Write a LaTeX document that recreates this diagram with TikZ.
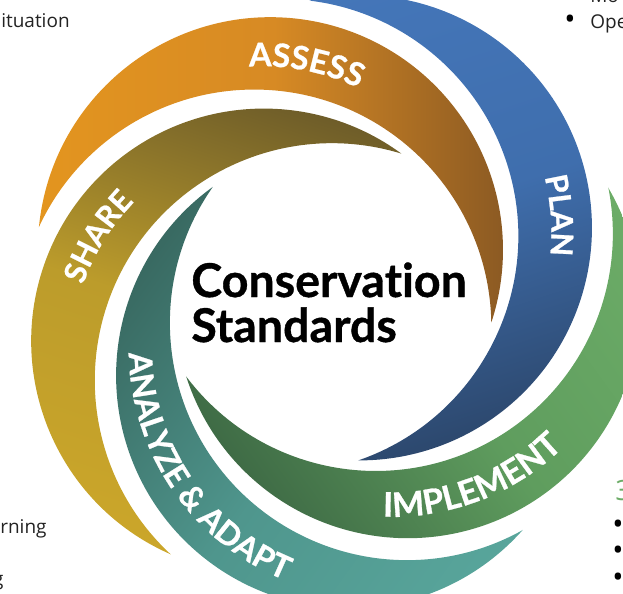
\documentclass[tikz,border=0pt]{standalone}
\usepackage{fontspec}
\setmainfont{Lato}[Ligatures=NoCommon]
\newfontfamily\heavyfont{Lato}[Ligatures=NoCommon, FakeBold=0.8]
\newfontfamily\opensans{Open Sans}
\usetikzlibrary{calc,decorations.text}

% band colours: head, middle, tail
\definecolor{assessL}{HTML}{E3951F}
\definecolor{assessM}{HTML}{D78A24}
\definecolor{assessD}{HTML}{8A5923}
\definecolor{planL}{HTML}{4476B9}
\definecolor{planM}{HTML}{3F6EAD}
\definecolor{planD}{HTML}{2C476C}
\definecolor{implL}{HTML}{6CAC67}
\definecolor{implM}{HTML}{5F9D5E}
\definecolor{implD}{HTML}{3E6A45}
\definecolor{adaptL}{HTML}{58A59B}
\definecolor{adaptM}{HTML}{4F968D}
\definecolor{adaptD}{HTML}{386860}
\definecolor{shareL}{HTML}{CBA62A}
\definecolor{shareM}{HTML}{BC9C2B}
\definecolor{shareD}{HTML}{6C5B29}
\definecolor{sidetext}{HTML}{222222}

\begin{document}
\begin{tikzpicture}[x=0.02cm,y=0.02cm,line join=round,line cap=round,
    side/.style={font=\opensans\fontsize{10.8}{13}\selectfont, text=sidetext, inner sep=0pt},
    dot/.style={font=\opensans\fontsize{17}{17}\selectfont, text=black, inner sep=0pt},
    bandtext/.style 2 args={decorate, decoration={text along path, text align=center,
      text={|\heavyfont\fontsize{#1}{22}\selectfont\bfseries\color{white}|#2}}}]
	\useasboundingbox (-330,-293) rectangle (293,300);
	
	% five crescents, turned 72 degrees clockwise each time
	\foreach \rot/\cl/\cm/\cd in {0/assessL/assessM/assessD, -72/planL/planM/planD,
	    -144/implL/implM/implD, -216/adaptL/adaptM/adaptD, -288/shareL/shareM/shareD}{
		\begin{scope}[transform canvas={rotate=\rot}]
			\shade[left color=\cl, right color=\cd, middle color=\cm]
			  (-291.1,72.6) arc[start angle=174.48, end angle=-18.26, radius=232.6]
			  arc[start angle=0.99, end angle=155.22, radius=237.2] -- cycle;
		\end{scope}
	}
	
	% labels along the middle of each band
	\begin{scope}[transform canvas={rotate=0}]
		\path[bandtext={18.5}{ASSESS}] ($(-67.6,11.7)+(123.9:222)$) arc[start angle=123.9, end angle=33.9, radius=222];
	\end{scope}
	\begin{scope}[transform canvas={rotate=-72}]
		\path[bandtext={17.3}{PLAN}] ($(-67.6,11.7)+(121:231)$) arc[start angle=121, end angle=31, radius=231];
	\end{scope}
	\begin{scope}[transform canvas={rotate=-144}]
		\path[bandtext={19.3}{IMPLEMENT}] ($(-67.6,11.7)+(15:247)$) arc[start angle=15, end angle=135, radius=247];
	\end{scope}
	\begin{scope}[transform canvas={rotate=-216}]
		\path[bandtext={18.3}{ANALYZE {\&} ADAPT}] ($(-67.6,11.7)+(0.5:249)$) arc[start angle=0.5, end angle=140.5, radius=249];
	\end{scope}
	\begin{scope}[transform canvas={rotate=-288}]
		\path[bandtext={17.3}{SHARE}] ($(-67.6,11.7)+(121.2:228)$) arc[start angle=121.2, end angle=31.2, radius=228];
	\end{scope}
	
	\node[anchor=base west, inner sep=0pt, font=\heavyfont\fontsize{26.5}{30}\selectfont\bfseries] (title) at (-139,3) {Conservation};
	\node[anchor=base west, inner sep=0pt, font=\heavyfont\fontsize{26.5}{30}\selectfont\bfseries] (subtitle) at (-139,-42) {Standards};
	
	% cut-off text round the edges
	\node[side, anchor=base west] (situation) at (-329,273) {ituation};
	\node[side, anchor=base west] (mo) at (260,298) {Mo};
	\node[side, anchor=base west] (ope) at (260,272) {Ope};
	\node[dot] (dot0) at (240,278) {•};
	\node[side, anchor=base west] (rning) at (-330,-233) {rning};
	\node[side, anchor=base east] (g) at (-326,-285) {g};
	\node[side, anchor=base west, text=implL, font=\opensans\fontsize{15.9}{18}\selectfont] (three) at (285,-200) {3};
	\node[dot] (dot1) at (288,-227) {•};
	\node[dot] (dot2) at (288,-253) {•};
	\node[dot] (dot3) at (288,-280) {•};
\end{tikzpicture}
\end{document}
